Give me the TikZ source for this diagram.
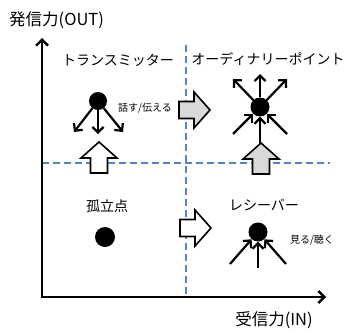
\documentclass[tikz,border=0pt]{standalone}
\usepackage{fontspec}
\setmainfont{Noto Sans CJK JP}
\usetikzlibrary{arrows.meta}
\definecolor{dashblue}{HTML}{5685C4}
\definecolor{boxgray}{HTML}{D9D9D9}
\tikzset{
  axisline/.style={line width=2.4pt, -{Straight Barb[length=6pt,width=12pt]}},
  quaddash/.style={dashblue, line width=1.3pt, dash pattern=on 7pt off 4pt},
  sarrow/.style={line width=2.2pt, -{Straight Barb[length=5.5pt,width=11pt]}},
  dot/.style={circle, fill=black, draw=none, inner sep=0pt, minimum size=#1},
  biglabel/.style={font=\fontsize{16.5}{18}\selectfont, inner sep=0pt},
  quadlabel/.style={font=\fontsize{14}{16}\selectfont, inner sep=0pt},
  smalllabel/.style={font=\fontsize{10}{12}\selectfont, inner sep=0pt},
  pics/blockarr/.style={code={
    \draw[line width=1.6pt, line join=miter, pic actions]
      (0,-8.5) -- (15,-8.5) -- (15,-18) -- (31,0) -- (15,18) -- (15,8.5) -- (0,8.5) -- cycle;}}
}
\begin{document}
\begin{tikzpicture}[x=1pt,y=-1pt]
\useasboundingbox (0,0) rectangle (348,332);
% quadrant dividers
\coordinate (vtop) at (186,45);
\coordinate (vbot) at (186,297);
\coordinate (hl) at (42,163);
\coordinate (hr) at (330,163);
\draw[quaddash] (vtop) -- (vbot);
\draw[quaddash] (hl) -- (hr);
% axes
\coordinate (origin) at (42,297);
\coordinate (ytip) at (42,38);
\coordinate (xtip) at (326,297);
\draw[axisline, line cap=rect] (origin) -- (ytip);
\draw[axisline] (origin) -- (xtip);
\node[biglabel, anchor=west] (ylab) at (9,20) {発信力(OUT)};
\node[biglabel] (xlab) at (274,320) {受信力(IN)};
% quadrant labels
\node[quadlabel] (ltx) at (118,60) {トランスミッター};
\node[quadlabel] (lop) at (268,59) {オーディナリーポイント};
\node[quadlabel] (liso) at (107,206) {孤立点};
\node[quadlabel] (lrx) at (264,205) {レシーバー};
\node[smalllabel] (ltalk) at (145,108) {話す/伝える};
\node[smalllabel] (llisten) at (312,240) {見る/聴く};
% transmitter
\node[dot=18pt] (tx) at (98,101) {};
\coordinate (t1) at (74,132);
\coordinate (t2) at (98,134);
\coordinate (t3) at (123,132);
\draw[sarrow] (tx) -- (t1);
\draw[sarrow] (tx) -- (t2);
\draw[sarrow] (tx) -- (t3);
% ordinary point
\node[dot=19pt] (op) at (260,107) {};
\coordinate (o1) at (233,79);
\coordinate (o2) at (260,74);
\coordinate (o3) at (287,79);
\coordinate (i1) at (233,134);
\coordinate (i2) at (260,144);
\coordinate (i3) at (287,134);
\draw[sarrow] (op) -- (o1);
\draw[sarrow] (op) -- (o2);
\draw[sarrow] (op) -- (o3);
\draw[sarrow] (i1) -- (op);
\draw[sarrow] (i2) -- (op);
\draw[sarrow] (i3) -- (op);
% isolated
\node[dot=20pt] (iso) at (105,237) {};
% receiver
\node[dot=19pt] (rx) at (258,232) {};
\coordinate (r1) at (230,264);
\coordinate (r2) at (258,268);
\coordinate (r3) at (286,264);
\draw[sarrow] (r1) -- (rx);
\draw[sarrow] (r2) -- (rx);
\draw[sarrow] (r3) -- (rx);
% block arrows
\pic[rotate=90, fill=white] at (99,173) {blockarr};
\pic[rotate=90, fill=boxgray] at (261,174) {blockarr};
\pic[fill=boxgray] at (179,110) {blockarr};
\pic[fill=white] at (180,228) {blockarr};
\end{tikzpicture}
\end{document}
